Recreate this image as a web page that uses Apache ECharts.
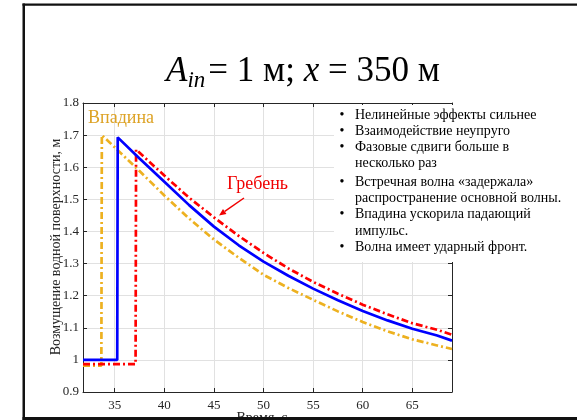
<!DOCTYPE html>
<html>
<head>
<meta charset="utf-8">
<script src="https://cdn.jsdelivr.net/npm/echarts@6/dist/echarts.min.js"></script>
<style>
html,body{margin:0;padding:0;background:#fff;}
#c{width:577px;height:420px;}
</style>
</head>
<body>
<div id="c"></div>
<script>
// ---- data ----
const blueT = [31.8, 35.25, 35.3, 37.5, 40, 42.5, 45, 47.5, 50, 52.5, 55, 57.5, 60, 62.5, 65, 67.5, 69];
const blueV = [1.0, 1.0, 1.693, 1.627, 1.555, 1.482, 1.415, 1.357, 1.306, 1.262, 1.222, 1.186, 1.152, 1.123, 1.097, 1.076, 1.06];

const orangeT = [31.8, 33.65, 33.7, 35, 37.5, 40, 42.5, 45, 47.5, 50, 52.5, 55, 57.5, 60, 62.5, 65, 67.5, 69];
const orangeV = [0.982, 0.982, 1.70, 1.662, 1.588, 1.512, 1.44, 1.375, 1.318, 1.265, 1.224, 1.187, 1.151, 1.118, 1.089, 1.064, 1.045, 1.034];

const redT = [31.8, 37.1, 37.15, 40, 42.5, 45, 47.5, 50, 52.5, 55, 57.5, 60, 62.5, 65, 67.5, 69];
const redV = [0.987, 0.987, 1.655, 1.574, 1.505, 1.444, 1.386, 1.333, 1.285, 1.243, 1.206, 1.172, 1.142, 1.114, 1.094, 1.078];

const xRange = [31.8, 69];
const yRange = [0.9, 1.8];
const yStep = 0.1;
const xStep = 5;

const bulletLines = [
  {b: true,  t: 'Нелинейные эффекты сильнее'},
  {b: true,  t: 'Взаимодействие неупруго'},
  {b: true,  t: 'Фазовые сдвиги больше в'},
  {b: false, t: 'несколько раз'},
  {b: true,  t: 'Встречная волна «задержала»'},
  {b: false, t: 'распространение основной волны.'},
  {b: true,  t: 'Впадина ускорила падающий'},
  {b: false, t: 'импульс.'},
  {b: true,  t: 'Волна имеет ударный фронт.'}
];
const bulletY = [115, 131, 147, 163, 182, 198, 214, 231, 247];

const yName = 'Возмущение водной поверхности, м';
const xName = 'Время, с';
const troughLabel = 'Впадина';
const crestLabel = 'Гребень';

// ---- rendering ----
const SERIF = "'Liberation Serif', 'Times New Roman', serif";
const AX = '#262626';
const zip = (a, b) => a.map((v, i) => [v, b[i]]);

const chart = echarts.init(document.getElementById('c'), null, {renderer: 'canvas'});

const ctx = document.createElement('canvas').getContext('2d');
function tw(text, size, italic) {
  ctx.font = (italic ? 'italic ' : '') + size + 'px ' + SERIF;
  return ctx.measureText(text).width;
}

// title pieces
const titleParts = [
  {t: 'A', s: 35, i: true, dy: 0},
  {t: 'in', s: 23, i: true, dy: 9},
  {t: '= 1 м; ', s: 35, i: false, dy: 0},
  {t: 'x', s: 35, i: true, dy: 0},
  {t: ' = 350 м', s: 35, i: false, dy: 0}
];
const titleCx = 303, titleCy = 72;
let totalW = 0;
titleParts.forEach(p => { p.w = tw(p.t, p.s, p.i); totalW += p.w; });
titleParts[1].w += 3; totalW += 3;
let tx = titleCx - totalW / 2;
const graphics = [];
titleParts.forEach(p => {
  graphics.push({
    type: 'text', x: tx, y: titleCy + p.dy, z: 60,
    style: {text: p.t, fontFamily: SERIF, fontSize: p.s, fontStyle: p.i ? 'italic' : 'normal',
      fill: '#000', align: 'left', verticalAlign: 'middle'}
  });
  tx += p.w;
});

// white box behind bullet list
graphics.push({type: 'rect', z: 50, shape: {x: 334, y: 105, width: 243, height: 157}, style: {fill: '#fff'}});
bulletLines.forEach((l, i) => {
  if (l.b) graphics.push({type: 'text', z: 51, x: 342, y: bulletY[i],
    style: {text: '•', fontFamily: SERIF, fontSize: 14, fill: '#000', align: 'center', verticalAlign: 'middle'}});
  graphics.push({type: 'text', z: 51, x: 355, y: bulletY[i],
    style: {text: l.t, fontFamily: SERIF, fontSize: 14, fill: '#000', align: 'left', verticalAlign: 'middle'}});
});

// annotations
graphics.push({type: 'text', z: 51, x: 88, y: 118,
  style: {text: troughLabel, fontFamily: SERIF, fontSize: 18, fill: '#DDA224', align: 'left', verticalAlign: 'middle'}});
graphics.push({type: 'text', z: 51, x: 227, y: 184,
  style: {text: crestLabel, fontFamily: SERIF, fontSize: 18, fill: '#F00000', align: 'left', verticalAlign: 'middle'}});
// arrow
const ax0 = 244, ay0 = 198, ax1 = 219, ay1 = 215.5;
const ang = Math.atan2(ay1 - ay0, ax1 - ax0);
const hl = 7, hw = 3;
const bx = ax1 - hl * Math.cos(ang), by = ay1 - hl * Math.sin(ang);
graphics.push({type: 'line', z: 51, shape: {x1: ax0, y1: ay0, x2: bx, y2: by}, style: {stroke: '#F00000', lineWidth: 1.5}});
graphics.push({type: 'polygon', z: 51, shape: {points: [
  [ax1, ay1],
  [bx + hw * Math.sin(ang), by - hw * Math.cos(ang)],
  [bx - hw * Math.sin(ang), by + hw * Math.cos(ang)]
]}, style: {fill: '#F00000'}});

// axis names
graphics.push({type: 'text', z: 51, x: 56, y: 247, rotation: Math.PI / 2,
  style: {text: yName, fontFamily: SERIF, fontSize: 14, fill: AX, align: 'center', verticalAlign: 'middle'}});
graphics.push({type: 'text', z: 40, x: 262, y: 418,
  style: {text: xName, fontFamily: SERIF, fontSize: 14, fill: AX, align: 'center', verticalAlign: 'middle'}});

// slide frame
graphics.push({type: 'rect', z: 70, shape: {x: 22.5, y: 3.5, width: 2.5, height: 420}, style: {fill: '#111'}});
graphics.push({type: 'rect', z: 70, shape: {x: 22.5, y: 3.5, width: 560, height: 2.2}, style: {fill: '#111'}});
graphics.push({type: 'rect', z: 70, shape: {x: 22.5, y: 417, width: 560, height: 4}, style: {fill: '#111'}});

const tickStyle = {show: true, inside: true, length: 4, lineStyle: {color: AX, width: 1}};
const lineAx = {show: true, onZero: false, lineStyle: {color: AX, width: 1}};
const gridLine = {show: true, lineStyle: {color: '#e1e1e1', width: 1}};
const labelStyle = {fontFamily: SERIF, fontSize: 13, color: AX};

const option = {
  animation: false,
  backgroundColor: '#fff',
  grid: {left: 83, top: 103, right: 125, bottom: 28, containLabel: false},
  xAxis: [
    {type: 'value', min: xRange[0], max: xRange[1], minInterval: xStep, maxInterval: xStep, splitNumber: 8,
      axisLine: lineAx, axisTick: tickStyle, splitLine: gridLine,
      axisLabel: Object.assign({margin: 7, showMinLabel: false, showMaxLabel: false}, labelStyle)},
    {type: 'value', position: 'top', min: xRange[0], max: xRange[1], minInterval: xStep, maxInterval: xStep, splitNumber: 8,
      axisLine: lineAx, axisTick: tickStyle, splitLine: {show: false}, axisLabel: {show: false}}
  ],
  yAxis: [
    {type: 'value', min: yRange[0], max: yRange[1], interval: yStep,
      axisLine: lineAx, axisTick: tickStyle, splitLine: gridLine,
      axisLabel: Object.assign({margin: 4, formatter: v => String(+(+v).toFixed(1))}, labelStyle)},
    {type: 'value', position: 'right', min: yRange[0], max: yRange[1], interval: yStep,
      axisLine: lineAx, axisTick: tickStyle, splitLine: {show: false}, axisLabel: {show: false}}
  ],
  series: [
    {type: 'line', name: 'orange', data: zip(orangeT, orangeV), showSymbol: false, z: 3,
      lineStyle: {color: '#EDB120', width: 2.7, type: [7, 3, 2, 3]}},
    {type: 'line', name: 'red', data: zip(redT, redV), showSymbol: false, z: 4,
      lineStyle: {color: '#FF0000', width: 2.7, type: [7, 3, 2, 3]}},
    {type: 'line', name: 'blue', data: zip(blueT, blueV), showSymbol: false, z: 5,
      lineStyle: {color: '#0000FF', width: 2.7, type: 'solid'}}
  ],
  graphic: {elements: graphics}
};
chart.setOption(option);
</script>
</body>
</html>
